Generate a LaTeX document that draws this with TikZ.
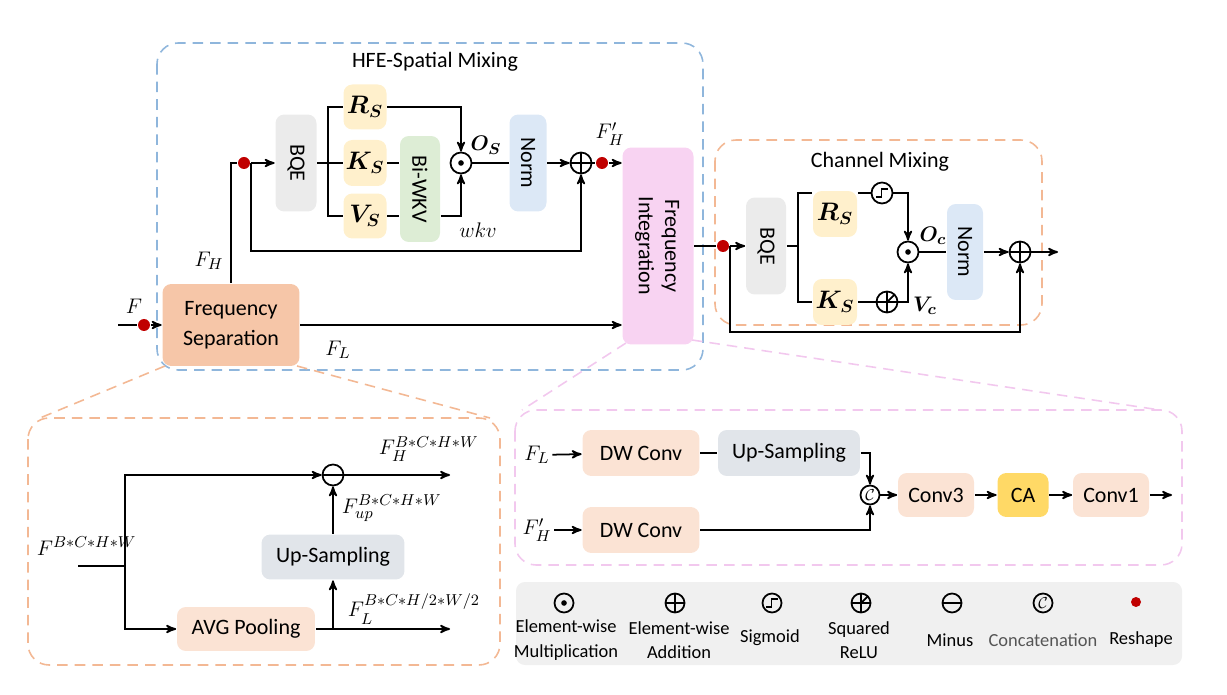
\documentclass[tikz,border=0pt]{standalone}
\usepackage{amsmath}
\usepackage{amssymb}
\usepackage{bm}
\usepackage{graphicx}
\usepackage{fontspec}
\setsansfont{Carlito}
\usepackage{tikz}
\usetikzlibrary{positioning,arrows,calc}

\definecolor{fsorange}{HTML}{F6C6A8}
\definecolor{lorange}{HTML}{FBE3D4}
\definecolor{upgray}{HTML}{E1E5EA}
\definecolor{bqegray}{HTML}{EBEBEB}
\definecolor{qyellow}{HTML}{FFF0CC}
\definecolor{wkvgreen}{HTML}{DDEDD5}
\definecolor{normblue}{HTML}{DCE8F6}
\definecolor{fipink}{HTML}{F8D3F2}
\definecolor{cagold}{HTML}{FFD966}
\definecolor{leggray}{HTML}{F0F0F0}
\definecolor{blueg}{HTML}{8FB6DC}
\definecolor{orag}{HTML}{F3B894}
\definecolor{pinkg}{HTML}{F2C8EE}
\definecolor{dotred}{HTML}{C00000}
\definecolor{txtgray}{HTML}{555555}

\begin{document}
\begin{tikzpicture}[x=0.02cm,y=-0.02cm,>=stealth',line width=1pt,
	txt/.style={font=\sffamily\fontsize{12.5}{17}\selectfont, inner sep=1pt},
	blk/.style={txt, rounded corners=5pt, inner sep=0pt, align=center},
	ltxt/.style={font=\sffamily\fontsize{10.5}{14}\selectfont, align=center, inner sep=0pt},
	mlbl/.style={font=\fontsize{13}{15}\selectfont, inner sep=1pt},
	slbl/.style={font=\fontsize{13}{15}\selectfont, inner sep=0pt},
	opc/.style={circle, draw, line width=1pt, minimum size=0.42cm, inner sep=0pt},
	odot/.style={opc, path picture={\fill (path picture bounding box.center) circle (1.6pt);}},
	oplus/.style={opc, path picture={\draw[line width=1pt] (path picture bounding box.north) -- (path picture bounding box.south)
		(path picture bounding box.west) -- (path picture bounding box.east);}},
	ominus/.style={opc, path picture={\draw[line width=1pt] (path picture bounding box.west) -- (path picture bounding box.east);}},
	osig/.style={opc, path picture={\draw[line width=0.9pt, shift={(path picture bounding box.center)}]
		(-3.5pt,-2.2pt) -- (-0.3pt,-2.2pt) -- (-0.3pt,2.2pt) -- (3.5pt,2.2pt);}},
	osqr/.style={opc, path picture={\draw[line width=1pt] (path picture bounding box.north) -- (path picture bounding box.south)
		(path picture bounding box.west) -- (path picture bounding box.east)
		(path picture bounding box.center) -- (path picture bounding box.north east);}},
	ocat/.style={opc, minimum size=0.38cm, font=\fontsize{9}{9}\selectfont},
	rdot/.style={circle, fill=dotred, minimum size=0.24cm, inner sep=0pt},
	grp/.style={rounded corners=12pt, line width=0.9pt, dash pattern=on 6pt off 4pt}]

	\useasboundingbox (0,0) rectangle (1227,695);

	% group frames
	\draw[grp, draw=blueg] (157,43) rectangle (703,370);
	\draw[grp, draw=orag] (715,140) rectangle (1042,325);
	\draw[grp, draw=orag] (28,418) rectangle (500,665);
	\draw[grp, draw=pinkg] (515,410) rectangle (1182,565);
	\draw[grp, draw=orag] (165,366) -- (40,418);
	\draw[grp, draw=orag] (297,366) -- (490,418);
	\draw[grp, draw=pinkg] (626,343) -- (522,410);
	\draw[grp, draw=pinkg] (692,340) -- (1160,410);
	\fill[leggray, rounded corners=5pt] (516,582) rectangle (1182,665);

	\node[txt] (tsp) at (435,62) {HFE-Spatial Mixing};
	\node[txt] (tch) at (880,162) {Channel Mixing};

	% spatial mixing
	\node[blk, fill=fsorange, minimum width=2.74cm, minimum height=1.64cm] (fsep) at (231,325) {Frequency\\Separation};
	\node[blk, fill=bqegray, minimum width=0.82cm, minimum height=1.94cm] (bqe1) at (296,163) {\rotatebox{-90}{BQE}};
	\node[blk, fill=qyellow, minimum width=0.86cm, minimum height=0.9cm] (rs1) at (365,107) {\fontsize{14}{16}\selectfont$\bm{R_S}$};
	\node[blk, fill=qyellow, minimum width=0.86cm, minimum height=0.92cm] (ks1) at (365,163) {\fontsize{14}{16}\selectfont$\bm{K_S}$};
	\node[blk, fill=qyellow, minimum width=0.86cm, minimum height=0.9cm] (vs1) at (365,216) {\fontsize{14}{16}\selectfont$\bm{V_S}$};
	\node[blk, fill=wkvgreen, minimum width=0.8cm, minimum height=2.12cm] (wkv1) at (420,189) {\rotatebox{-90}{Bi-WKV}};
	\node[odot] (od1) at (461,163) {};
	\node[blk, fill=normblue, minimum width=0.74cm, minimum height=1.94cm] (nrm1) at (528,163) {\rotatebox{-90}{Norm}};
	\node[oplus] (op1) at (581,163) {};
	\node[rdot] (d2) at (602,163) {};
	\node[blk, fill=fipink, minimum width=1.42cm, minimum height=3.94cm] (fint) at (658,246)
		{\rotatebox{-90}{\begin{tabular}{@{}c@{}}Frequency\\[-2pt]Integration\end{tabular}}};

	\coordinate (fin) at (118,325);
	\node[rdot] (d0) at (144,325) {};
	\node[rdot] (d1) at (244,163) {};
	\coordinate (j1) at (328,163);

	\draw (fin) -- (d0);
	\draw[->] (d0) -- (fsep);
	\draw (fsep.north) |- (d1);
	\draw[->] (d1) -- (bqe1);
	\draw (bqe1) -- (j1);
	\draw (rs1.west) -| (j1) |- (vs1.west);
	\draw (j1) -- (ks1);
	\draw (ks1.east) -- (ks1.east -| wkv1.west);
	\draw (vs1.east) -- (vs1.east -| wkv1.west);
	\draw[->] (rs1.east) -| (od1);
	\draw[->] (wkv1.east |- vs1.east) -| (od1);
	\draw (od1) -- (nrm1);
	\draw[->] (nrm1) -- (op1);
	\draw (op1) -- (d2);
	\draw[->] (d2) -- (d2 -| fint.west);
	\draw[->] (d1.east) -- ++(0,88) -| (op1);
	\draw[->] (fsep.east) -- (fsep.east -| fint.west);

	\node[mlbl] (lF) at (134,306) {$F$};
	\node[mlbl] (lFH) at (209,261) {$F_H$};
	\node[mlbl] (lFL) at (338,350) {$F_L$};
	\node[mlbl] (lwkv) at (478,230) {$wkv$};
	\node[mlbl] (lOS) at (486,145) {$\bm{O_S}$};
	\node[mlbl] (lFH2) at (610,134) {$F'_H$};

	% channel mixing
	\node[rdot] (d3) at (723,246) {};
	\node[blk, fill=bqegray, minimum width=0.8cm, minimum height=1.94cm] (bqe2) at (766,246) {\rotatebox{-90}{BQE}};
	\coordinate (j2) at (798,246);
	\coordinate (jt) at (798,193);
	\coordinate (jb) at (798,302);
	\node[blk, fill=qyellow, minimum width=0.88cm, minimum height=0.92cm] (rs2) at (835,214) {\fontsize{14}{16}\selectfont$\bm{R_S}$};
	\node[blk, fill=qyellow, minimum width=0.88cm, minimum height=0.92cm] (ks2) at (835,302) {\fontsize{14}{16}\selectfont$\bm{K_S}$};
	\node[osig] (sg) at (882,193) {};
	\node[osqr] (sq) at (887,302) {};
	\node[odot] (od2) at (908,252) {};
	\node[blk, fill=normblue, minimum width=0.72cm, minimum height=1.92cm] (nrm2) at (965,252) {\rotatebox{-90}{Norm}};
	\node[oplus] (op2) at (1020,252) {};
	\coordinate (cout) at (1058,252);

	\draw (fint.east |- d3) -- (d3);
	\draw[->] (d3) -- (bqe2);
	\draw (bqe2) -- (j2);
	\draw (jt -| rs2.west) -- (jt) -- (jb) -- (ks2.west);
	\draw (jt -| rs2.east) -- (sg);
	\draw[->] (sg) -| (od2);
	\draw (ks2) -- (sq);
	\draw[->] (sq) -| (od2);
	\draw (od2) -- (nrm2);
	\draw[->] (nrm2) -- (op2);
	\draw[->] (op2) -- (cout);
	\draw[->] (d3.east) -- ++(0,86) -| (op2);

	\node[mlbl] (lOc) at (933,236) {$\bm{O_c}$};
	\node[mlbl] (lVc) at (925,306) {$\bm{V_c}$};

	% frequency separation detail
	\node[slbl, anchor=west] (lin) at (36,546) {$F^{B*C*H*W}$};
	\coordinate (bin) at (78,566);
	\coordinate (bj) at (125,566);
	\node[ominus] (mn) at (333,475) {};
	\node[blk, fill=lorange, minimum width=2.76cm, minimum height=0.88cm] (avg) at (246,629) {AVG Pooling};
	\node[blk, fill=upgray, minimum width=2.86cm, minimum height=0.9cm] (ups1) at (333,557) {Up-Sampling};
	\coordinate (bo1) at (450,475);
	\coordinate (bo2) at (450,629);

	\draw (bin) -- (bj);
	\draw[->] (bj) |- (mn);
	\draw[->] (bj) |- (avg);
	\draw[->] (mn) -- (bo1);
	\draw[->] (avg) -- (bo2);
	\draw[->] (avg.east -| ups1) -- (ups1);
	\draw[->] (ups1) -- (mn);

	\node[slbl, anchor=west] (lh) at (378,449) {$F_H^{B*C*H*W}$};
	\node[slbl, anchor=west] (lup) at (341,508) {$F_{up}^{B*C*H*W}$};
	\node[slbl, anchor=west] (ll) at (347,609) {$F_L^{B*C*H/2*W/2}$};

	% frequency integration detail
	\node[mlbl] (lfl) at (537,455) {$F_L$};
	\node[mlbl] (lfh) at (537,530) {$F'_H$};
	\node[blk, fill=lorange, minimum width=2.34cm, minimum height=0.92cm] (dw1) at (641,453) {DW Conv};
	\node[blk, fill=upgray, minimum width=2.84cm, minimum height=0.92cm] (ups2) at (789,453) {Up-Sampling};
	\node[blk, fill=lorange, minimum width=2.34cm, minimum height=0.92cm] (dw2) at (641,530) {DW Conv};
	\node[ocat] (cc) at (870,495) {$\mathcal{C}$};
	\node[blk, fill=lorange, minimum width=1.52cm, minimum height=0.88cm] (cv3) at (936,495) {Conv3};
	\node[blk, fill=cagold, minimum width=1.02cm, minimum height=0.88cm] (ca) at (1023,495) {CA};
	\node[blk, fill=lorange, minimum width=1.52cm, minimum height=0.88cm] (cv1) at (1111,495) {Conv1};
	\coordinate (iout) at (1172,495);

	\draw[->] (lfl) -- (dw1);
	\draw[->] (lfh) -- (dw2);
	\draw (dw1) -- (ups2);
	\draw[->] (ups2.east) -| (cc);
	\draw[->] (dw2.east) -| (cc);
	\draw[->] (cc) -- (cv3);
	\draw[->] (cv3) -- (ca);
	\draw[->] (ca) -- (cv1);
	\draw[->] (cv1) -- (iout);

	% legend
	\node[odot, minimum size=0.38cm] (lg1) at (564,603) {};
	\node[oplus, minimum size=0.38cm] (lg2) at (675,603) {};
	\node[osig, minimum size=0.38cm] (lg3) at (772,603) {};
	\node[osqr, minimum size=0.38cm] (lg4) at (861,603) {};
	\node[ominus, minimum size=0.38cm] (lg5) at (952,603) {};
	\node[ocat] (lg6) at (1043,603) {$\mathcal{C}$};
	\node[rdot, minimum size=0.2cm] (lg7) at (1136,602) {};

	\node[ltxt] (lt1) at (566,640) {Element-wise\\Multiplication};
	\node[ltxt] (lt2) at (679,640) {Element-wise\\Addition};
	\node[ltxt] (lt3) at (770,638) {Sigmoid};
	\node[ltxt] (lt4) at (859,640) {Squared\\ReLU};
	\node[ltxt] (lt5) at (950,640) {Minus};
	\node[ltxt, text=txtgray] (lt6) at (1043,640) {Concatenation};
	\node[ltxt] (lt7) at (1141,640) {Reshape};
\end{tikzpicture}
\end{document}
